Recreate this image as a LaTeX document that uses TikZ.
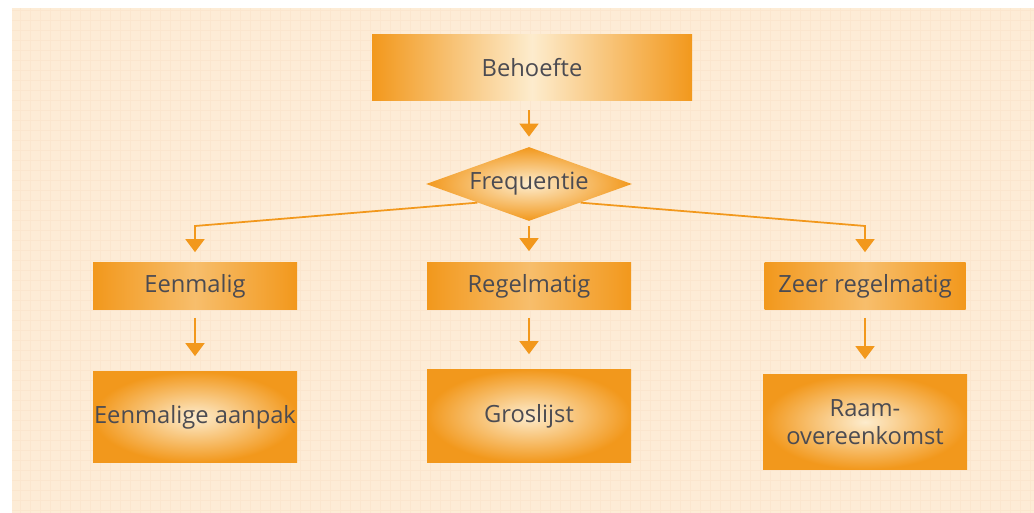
\documentclass[tikz,border=0pt]{standalone}
\usepackage{fontspec}
\setmainfont{Open Sans}
\usetikzlibrary{shapes.geometric,arrows.meta}
\definecolor{oranje}{RGB}{242,152,28}
\definecolor{licht}{RGB}{253,236,205}
\definecolor{achtergrond}{RGB}{253,236,214}
\definecolor{raster}{RGB}{251,230,206}
\definecolor{tekst}{RGB}{75,75,82}
\begin{document}
\begin{tikzpicture}[>={Triangle[width=0.38cm,length=0.26cm]},
  blok/.style={rectangle, inner sep=0pt, text=tekst, align=center,
    font=\fontsize{13.5}{16}\selectfont},
  pijl/.style={->, draw=oranje, line width=1pt}]
\useasboundingbox (0,0) rectangle (20.68,-10.26);
\fill[achtergrond] (0.24,-0.16) rectangle (20.68,-10.26);
\draw[raster, line width=0.2pt, step=0.2] (0.24,-10.26) grid (20.68,-0.16);

\node[blok, minimum width=6.4cm, minimum height=1.32cm,
  left color=oranje, right color=oranje, middle color=licht] (behoefte) at (10.64,-1.36) {Behoefte};
\node[blok, shape=diamond, minimum width=4.12cm, minimum height=1.48cm, aspect=2.8,
  shading=radial, inner color=licht, outer color=oranje] (freq) at (10.58,-3.68) {Frequentie};

\node[blok, minimum width=4.08cm, minimum height=0.94cm,
  left color=oranje, right color=oranje, middle color=licht!45!oranje] (eenmalig) at (3.9,-5.72) {Eenmalig};
\node[blok, minimum width=4.08cm, minimum height=0.94cm,
  left color=oranje, right color=oranje, middle color=licht!45!oranje] (regelmatig) at (10.58,-5.72) {Regelmatig};
\node[blok, minimum width=4.02cm, minimum height=0.94cm,
  left color=oranje, right color=oranje, middle color=licht!45!oranje] (zeer) at (17.3,-5.72) {Zeer regelmatig};

\node[blok, minimum width=4.08cm, minimum height=1.82cm,
  shading=radial, inner color=licht, outer color=oranje] (aanpak) at (3.9,-8.34) {Eenmalige aanpak};
\node[blok, minimum width=4.08cm, minimum height=1.86cm,
  shading=radial, inner color=licht, outer color=oranje] (groslijst) at (10.58,-8.32) {Groslijst};
\node[blok, minimum width=4.08cm, minimum height=1.9cm,
  shading=radial, inner color=licht, outer color=oranje] (raam) at (17.3,-8.44) {Raam-\\overeenkomst};

\coordinate (bochtL) at (3.9,-4.52);
\coordinate (bochtR) at (17.3,-4.52);

\draw[pijl, shorten <=0.18cm, shorten >=0.2cm] (behoefte.south -| freq.north) -- (freq.north);
\draw[pijl, shorten >=0.2cm] (freq.south west) -- (bochtL) -- (eenmalig.north);
\draw[pijl, shorten <=0.1cm, shorten >=0.22cm] (freq.south) -- (regelmatig.north);
\draw[pijl, shorten >=0.2cm] (freq.south east) -- (bochtR) -- (zeer.north);
\foreach \boven/\onder in {eenmalig/aanpak, regelmatig/groslijst, zeer/raam}
{
    \draw[pijl, shorten <=0.16cm, shorten >=0.3cm] (\boven.south) -- (\onder.north);
}

\end{tikzpicture}
\end{document}
